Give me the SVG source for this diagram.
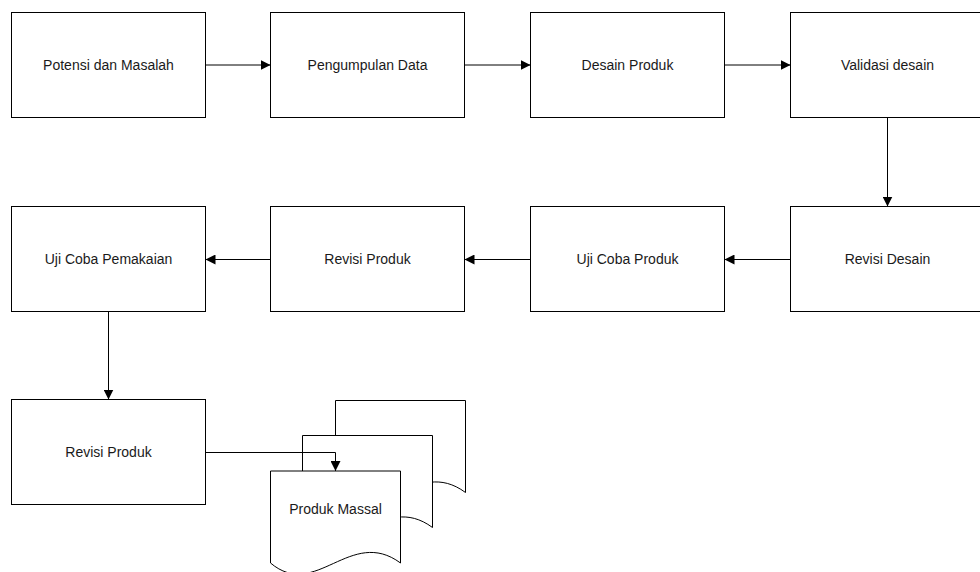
<svg xmlns="http://www.w3.org/2000/svg" width="980" height="572" viewBox="0 0 980 572">
<style>
.box{fill:#fff;stroke:#000;stroke-width:1}
.doc{fill:#fff;stroke:#000;stroke-width:1}
.lbl{font-family:"Liberation Sans",Arial,sans-serif;font-size:14px;fill:#1a1a1a;text-anchor:middle}
.con{fill:none;stroke:#000;stroke-width:1}
</style>
<defs>
<marker id="arr" markerUnits="userSpaceOnUse" markerWidth="10" markerHeight="10" refX="10" refY="5" orient="auto">
<path d="M0,0 L10,5 L0,10 Z" fill="#000"/>
</marker>
<path id="docshape" d="M0,0 H130 V92 C80,55 45,130 0,92 Z"/>
</defs>
<rect width="980" height="572" fill="#fff"/>
<g id="n1"><rect class="box" x="11.5" y="12.5" width="194" height="105"/><text class="lbl" x="108.5" y="70">Potensi dan Masalah</text></g>
<g id="n2"><rect class="box" x="270.5" y="12.5" width="194" height="105"/><text class="lbl" x="367.5" y="70">Pengumpulan Data</text></g>
<g id="n3"><rect class="box" x="530.5" y="12.5" width="194" height="105"/><text class="lbl" x="627.5" y="70">Desain Produk</text></g>
<g id="n4"><rect class="box" x="790.5" y="12.5" width="194" height="105"/><text class="lbl" x="887.5" y="70">Validasi desain</text></g>
<g id="n5"><rect class="box" x="790.5" y="206.5" width="194" height="105"/><text class="lbl" x="887.5" y="264">Revisi Desain</text></g>
<g id="n6"><rect class="box" x="530.5" y="206.5" width="194" height="105"/><text class="lbl" x="627.5" y="264">Uji Coba Produk</text></g>
<g id="n7"><rect class="box" x="270.5" y="206.5" width="194" height="105"/><text class="lbl" x="367.5" y="264">Revisi Produk</text></g>
<g id="n8"><rect class="box" x="11.5" y="206.5" width="194" height="105"/><text class="lbl" x="108.5" y="264">Uji Coba Pemakaian</text></g>
<g id="n9"><rect class="box" x="11.5" y="399.5" width="194" height="105"/><text class="lbl" x="108.5" y="457">Revisi Produk</text></g>
<g id="n10">
<use href="#docshape" class="doc" transform="translate(335.5,400.5)"/>
<use href="#docshape" class="doc" transform="translate(302.5,435.5)"/>
<use href="#docshape" class="doc" transform="translate(270.5,471)"/>
<text class="lbl" x="335.5" y="514">Produk Massal</text>
</g>
<g id="connectors">
<path class="con" d="M205.5,65 H270.5" marker-end="url(#arr)"/>
<path class="con" d="M464.5,65 H530.5" marker-end="url(#arr)"/>
<path class="con" d="M724.5,65 H790.5" marker-end="url(#arr)"/>
<path class="con" d="M887.5,117.5 V206.5" marker-end="url(#arr)"/>
<path class="con" d="M790.5,259.5 H724.5" marker-end="url(#arr)"/>
<path class="con" d="M530.5,259.5 H464.5" marker-end="url(#arr)"/>
<path class="con" d="M270.5,259.5 H205.5" marker-end="url(#arr)"/>
<path class="con" d="M108.5,311.5 V399.5" marker-end="url(#arr)"/>
<path class="con" d="M205.5,452.5 H335.5 V471" marker-end="url(#arr)"/>
</g>
</svg>
